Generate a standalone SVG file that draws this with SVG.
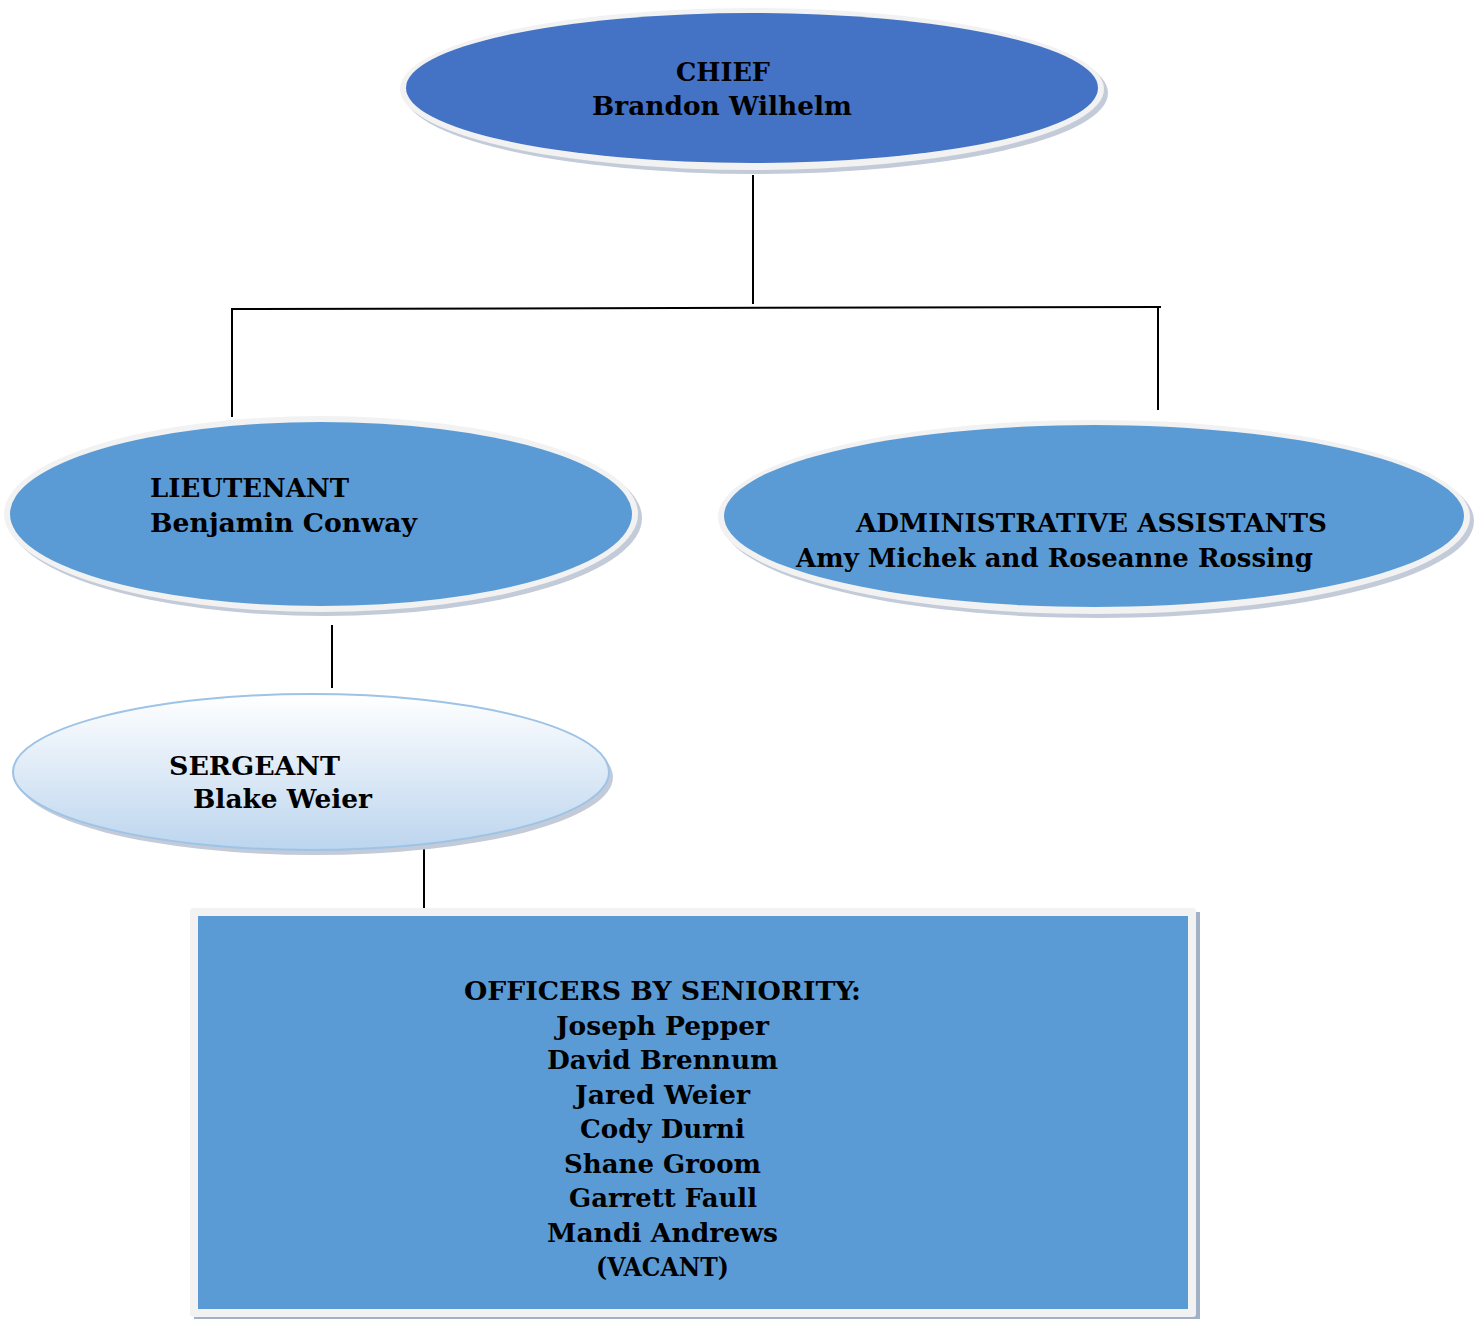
<svg xmlns="http://www.w3.org/2000/svg" width="1483" height="1319" viewBox="0 0 1483 1319">
<defs>
<linearGradient id="sg" x1="0" y1="0" x2="0" y2="1">
<stop offset="0" stop-color="#ffffff"/>
<stop offset="1" stop-color="#bcd5ee"/>
</linearGradient>
<style>
.t{font-family:"DejaVu Serif","Liberation Serif",serif;font-weight:bold;font-size:26px;fill:#000}
.sh{fill:#c3cbd9}
.rim{fill:#f2f2f2}
.conn{stroke:#000;stroke-width:2;fill:none}
</style>
</defs>
<rect width="1483" height="1319" fill="#fff"/>
<g id="connectors">
<line class="conn" x1="753" y1="175" x2="753" y2="304"/>
<line class="conn" x1="232" y1="309" x2="1161" y2="307"/>
<line class="conn" x1="232" y1="308" x2="232" y2="417"/>
<line class="conn" x1="1158" y1="307" x2="1158" y2="410"/>
<line class="conn" x1="332" y1="625" x2="332" y2="688"/>
<line class="conn" x1="424" y1="848" x2="424" y2="908"/>
</g>
<g id="chief">
<ellipse class="sh" cx="756" cy="93" rx="352" ry="81"/>
<ellipse class="rim" cx="752" cy="89" rx="352" ry="81"/>
<ellipse cx="752" cy="88" rx="346" ry="75" fill="#4472c4"/>
<text class="t" x="676" y="81" textLength="94" lengthAdjust="spacingAndGlyphs">CHIEF</text>
<text class="t" x="592" y="115" textLength="260" lengthAdjust="spacingAndGlyphs">Brandon Wilhelm</text>
</g>
<g id="lieutenant">
<ellipse class="sh" cx="325" cy="518" rx="317" ry="98"/>
<ellipse class="rim" cx="321" cy="514" rx="317" ry="98"/>
<ellipse cx="321" cy="514" rx="311" ry="92" fill="#5b9bd5"/>
<text class="t" x="150" y="497" textLength="199" lengthAdjust="spacingAndGlyphs">LIEUTENANT</text>
<text class="t" x="150" y="532" textLength="267" lengthAdjust="spacingAndGlyphs">Benjamin  Conway</text>
</g>
<g id="admin">
<ellipse class="sh" cx="1098" cy="521" rx="376" ry="97"/>
<ellipse class="rim" cx="1094" cy="517" rx="376" ry="97"/>
<ellipse cx="1094" cy="516" rx="370" ry="91" fill="#5b9bd5"/>
<text class="t" x="856" y="532" textLength="471" lengthAdjust="spacingAndGlyphs">ADMINISTRATIVE  ASSISTANTS</text>
<text class="t" x="796" y="567" textLength="517" lengthAdjust="spacingAndGlyphs">Amy Michek and Roseanne Rossing</text>
</g>
<g id="sergeant">
<ellipse cx="315" cy="777" rx="298" ry="78" fill="#c3cbd9"/>
<ellipse cx="311" cy="772" rx="298" ry="78" fill="url(#sg)" stroke="#9dc3e6" stroke-width="2"/>
<text class="t" x="169" y="775" textLength="171" lengthAdjust="spacingAndGlyphs">SERGEANT</text>
<text class="t" x="193" y="808" textLength="179" lengthAdjust="spacingAndGlyphs">Blake Weier</text>
</g>
<g id="officers">
<rect x="194" y="912" width="1006" height="407" fill="#a3b1c6"/>
<rect class="rim" x="190" y="908" width="1006" height="409" rx="3"/>
<rect x="198" y="916" width="990" height="393" fill="#5b9bd5"/>
<text class="t" x="464" y="1000" textLength="397" lengthAdjust="spacingAndGlyphs">OFFICERS  BY  SENIORITY:</text>
<text class="t" x="556" y="1035" textLength="213" lengthAdjust="spacingAndGlyphs">Joseph Pepper</text>
<text class="t" x="547" y="1069" textLength="231" lengthAdjust="spacingAndGlyphs">David Brennum</text>
<text class="t" x="575" y="1104" textLength="175" lengthAdjust="spacingAndGlyphs">Jared Weier</text>
<text class="t" x="580" y="1138" textLength="165" lengthAdjust="spacingAndGlyphs">Cody Durni</text>
<text class="t" x="564" y="1173" textLength="197" lengthAdjust="spacingAndGlyphs">Shane Groom</text>
<text class="t" x="569" y="1207" textLength="188" lengthAdjust="spacingAndGlyphs">Garrett Faull</text>
<text class="t" x="547" y="1242" textLength="231" lengthAdjust="spacingAndGlyphs">Mandi Andrews</text>
<text class="t" x="596" y="1276" textLength="133" lengthAdjust="spacingAndGlyphs">(VACANT)</text>
</g>
</svg>
